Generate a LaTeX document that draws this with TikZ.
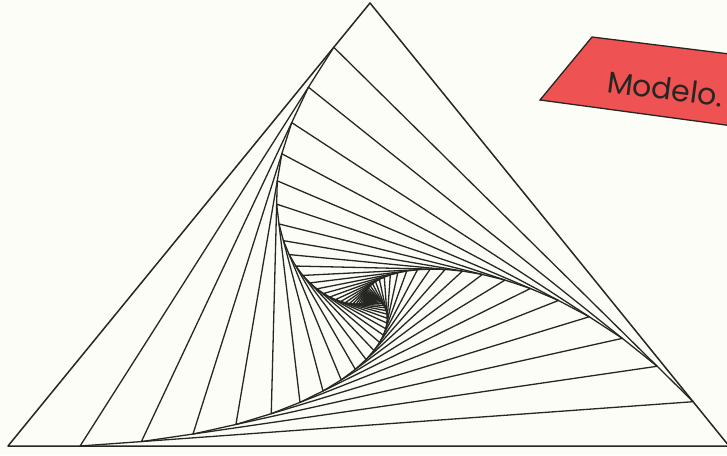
\documentclass[tikz,border=0pt]{standalone}
\usepackage{fontspec}
\usepackage{xcolor}
\definecolor{ink}      {HTML}{262622}
\definecolor{tagRed}   {HTML}{EE5252}
\definecolor{paper}    {HTML}{FDFDF8}
\usetikzlibrary{calc}
\newfontfamily\tagfont{Poppins}
\tikzset{
    whirl/.style={draw=ink, line width=1.3pt, line join=round},
    outer/.style={whirl, line width=1.5pt},
    tagbox/.style={fill=tagRed, draw=ink, line width=1.3pt},
    tagtext/.style={font=\tagfont\fontsize{30}{30}\selectfont, text=ink,
                    inner sep=0pt, rotate=-7.5, anchor=base west},
}

\begin{document}
\begin{tikzpicture}[x=1pt, y=-1pt]
    \useasboundingbox[fill=paper] (0,0) rectangle (727,455);
    \clip (0,0) rectangle (727,455);
    % outer triangle
    \coordinate (a0) at (370,3);
    \coordinate (b0) at (8,446);
    \coordinate (c0) at (729,446);
    \draw[outer] (a0) -- (b0) -- (c0) -- cycle;
    % each triangle sits on the sides of the one before
    \foreach \i [count=\j] in {0,...,69} {
        \coordinate (a\j) at ($(a\i)!0.1!(b\i)$);
        \coordinate (b\j) at ($(b\i)!0.1!(c\i)$);
        \coordinate (c\j) at ($(c\i)!0.1!(a\i)$);
        \draw[whirl] (a\j) -- (b\j) -- (c\j) -- cycle;
    }
    % red tag, cut by the right edge
    \coordinate (t1) at (540,100);
    \coordinate (t2) at (592,37);
    \coordinate (t3) at (770,59);
    \coordinate (t4) at (770,131);
    \draw[tagbox] (t1) -- (t2) -- (t3) -- (t4) -- cycle;
    \node[tagtext] (tag) at (606,92) {Modelo.};
\end{tikzpicture}
\end{document}
